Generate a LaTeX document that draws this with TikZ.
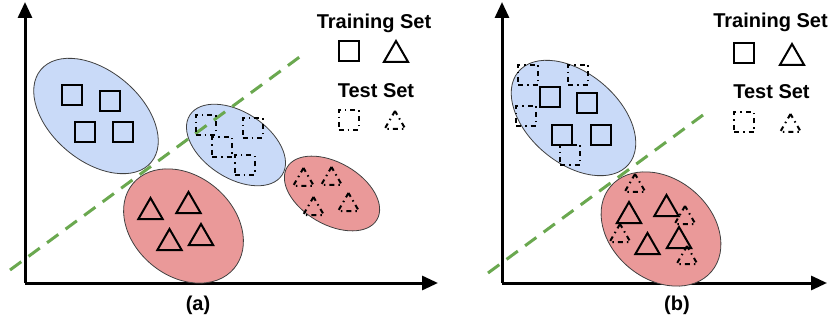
\documentclass[tikz,border=0pt]{standalone}
\usepackage{fontspec}
\setmainfont{Liberation Sans}
\usetikzlibrary{shapes.geometric,arrows.meta}
\definecolor{bluefill}{HTML}{C9DAF8}
\definecolor{redfill}{HTML}{EA9999}
\definecolor{sepgreen}{HTML}{6AA84F}
\definecolor{edgegray}{HTML}{404040}
\begin{document}
\begin{tikzpicture}[x=1pt,y=-1pt,
  cluster/.style={ellipse, draw=edgegray, line width=0.8pt, inner sep=0pt},
  bigblue/.style={cluster, fill=bluefill, minimum width=144pt, minimum height=90pt, rotate=-40},
  bigred/.style={cluster, fill=redfill, minimum width=132pt, minimum height=100pt, rotate=-40},
  smallblue/.style={cluster, fill=bluefill, minimum width=110pt, minimum height=66pt, rotate=-33},
  smallred/.style={cluster, fill=redfill, minimum width=104pt, minimum height=62pt, rotate=-30},
  trsq/.style={rectangle, draw=black, line width=2pt, minimum size=20pt, inner sep=0pt},
  trtri/.style={regular polygon, regular polygon sides=3, draw=black, line width=2pt, minimum size=28pt, inner sep=0pt},
  dashdot/.style={dash pattern=on 5pt off 4pt on 1.5pt off 4pt},
  tesq/.style={rectangle, draw=black, line width=2pt, dashdot, minimum size=20pt, inner sep=0pt},
  tetri/.style={regular polygon, regular polygon sides=3, draw=black, line width=2pt, dashdot, minimum size=24pt, inner sep=0pt},
  axis/.style={line width=3pt, -{Triangle[length=16pt,width=14pt]}},
  sep/.style={draw=sepgreen, line width=3pt, dash pattern=on 14pt off 9pt},
  lbl/.style={font=\fontsize{20}{24}\selectfont\bfseries, anchor=base, inner sep=0pt}
]
\useasboundingbox (0,0) rectangle (832,323);

% ===== Panel (a) =====
\coordinate (oa) at (25,283);
\coordinate (ya) at (25,2);
\coordinate (xa) at (438,283);
\draw[axis] (oa) -- (ya);
\draw[axis] (oa) -- (xa);

\node[bigblue] (ab1) at (96,116) {};
\node[bigred] (ar1) at (183.5,226) {};
\node[smallblue] (ab2) at (236,145) {};
\node[smallred] (ar2) at (332,193.5) {};

\coordinate (sa1) at (10,270);
\coordinate (sa2) at (305,53);
\draw[sep] (sa1) -- (sa2);

\node[trsq] (asq1) at (72,95.5) {};
\node[trsq] (asq2) at (110,101.5) {};
\node[trsq] (asq3) at (84.5,132.5) {};
\node[trsq] (asq4) at (122.5,132.5) {};

\node[trtri] (atr1) at (150.5,212) {};
\node[trtri] (atr2) at (188.5,206) {};
\node[trtri] (atr3) at (169.5,243) {};
\node[trtri] (atr4) at (201,238) {};

\node[tesq] (ate1) at (205.5,125) {};
\node[tesq] (ate2) at (252.5,128) {};
\node[tesq] (ate3) at (222,147.5) {};
\node[tesq] (ate4) at (244.5,165.5) {};

\node[tetri] (att1) at (303.5,180) {};
\node[tetri] (att2) at (331.5,179) {};
\node[tetri] (att3) at (313.5,209) {};
\node[tetri] (att4) at (348.5,205) {};

\node[lbl] (atrain) at (374,29) {Training Set};
\node[trsq] (alsq) at (348.5,51) {};
\node[trtri] (altr) at (396,55) {};
\node[lbl] (atest) at (376,98) {Test Set};
\node[tesq] (ales) at (348.5,120) {};
\node[tetri] (alet) at (395,123) {};
\node[lbl] (capa) at (198,310) {(a)};

% ===== Panel (b) =====
\coordinate (ob) at (502,283);
\coordinate (yb) at (502,2);
\coordinate (xb) at (827,283);
\draw[axis] (ob) -- (yb);
\draw[axis] (ob) -- (xb);

\node[bigblue] (bb1) at (573.5,118) {};
\node[bigred] (br1) at (661,229) {};

\coordinate (sb1) at (488,273);
\coordinate (sb2) at (703,115);
\draw[sep] (sb1) -- (sb2);

\node[tesq] (bte1) at (528,75) {};
\node[tesq] (bte2) at (578,75) {};
\node[tesq] (bte3) at (526,116) {};
\node[tesq] (bte4) at (570,155) {};

\node[trsq] (bsq1) at (550,97) {};
\node[trsq] (bsq2) at (587,103.5) {};
\node[trsq] (bsq3) at (562,135) {};
\node[trsq] (bsq4) at (600.5,135) {};

\node[tetri] (btt1) at (635,186) {};
\node[tetri] (btt2) at (685,218) {};
\node[tetri] (btt3) at (620,236) {};
\node[tetri] (btt4) at (687,258) {};

\node[trtri] (btr1) at (629,216) {};
\node[trtri] (btr2) at (666.5,209) {};
\node[trtri] (btr3) at (647.5,247) {};
\node[trtri] (btr4) at (679,241) {};

\node[lbl] (btrain) at (770.5,28) {Training Set};
\node[trsq] (blsq) at (744,53.5) {};
\node[trtri] (bltr) at (792,58) {};
\node[lbl] (btest) at (771.5,99) {Test Set};
\node[tesq] (bles) at (744,122.5) {};
\node[tetri] (blet) at (790.5,126) {};
\node[lbl] (capb) at (677,310) {(b)};
\end{tikzpicture}
\end{document}
